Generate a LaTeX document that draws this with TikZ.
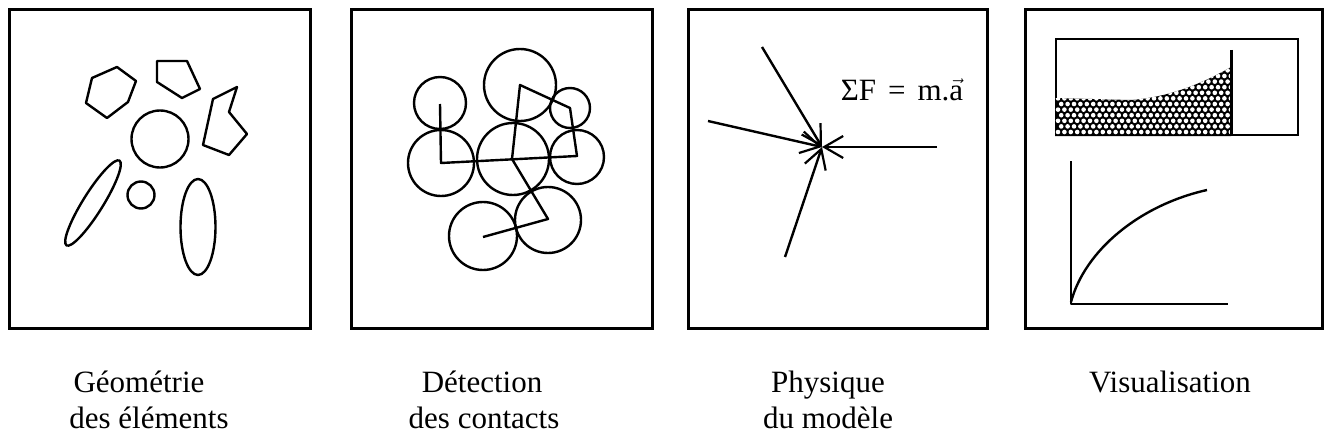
\documentclass[tikz,border=0pt]{standalone}
\usepackage{fontspec}
\setmainfont{Liberation Serif}
\usetikzlibrary{arrows.meta}
\begin{document}
\begin{tikzpicture}[x=1pt,y=-1pt,
  frame/.style={line width=3pt},
  obj/.style={line width=2.4pt, line join=round},
  force/.style={line width=2.4pt, -{Straight Barb[length=19pt,width=22pt,line width=2.2pt]}},
  lbl/.style={font=\fontsize{31}{36}\selectfont, anchor=base, inner sep=0pt}]
\useasboundingbox (0,0) rectangle (1326,444);
\fill[white] (0,0) rectangle (1326,444);
% frames
\draw[frame] (9,10) rectangle (310,328);
\draw[frame] (351,10) rectangle (652,328);
\draw[frame] (688,10) rectangle (987,328);
\draw[frame] (1025,10) rectangle (1322,328);
% panel 1
\draw[obj] (92,78) -- (117,67) -- (136,81) -- (128,102) -- (107,118) -- (86,103) -- cycle;
\draw[obj] (157,61) -- (187,61) -- (200,89) -- (182,98) -- (157,82) -- cycle;
\draw[obj] (213,99) -- (237,87) -- (229,112) -- (247,134) -- (229,155) -- (203,145) -- cycle;
\draw[obj] (160,139) circle (28.5);
\draw[obj] (141,195) circle (13.5);
\draw[obj] (93,203) ellipse [x radius=50, y radius=10, rotate=58];
\draw[obj] (198,227) ellipse [x radius=17.5, y radius=48];
% panel 2
\draw[obj] (440,103) circle (26);
\draw[obj] (520,85) circle (36);
\draw[obj] (570,108) circle (20);
\draw[obj] (441,163) circle (33);
\draw[obj] (513,159) circle (36);
\draw[obj] (577,157) circle (27);
\draw[obj] (548,220) circle (33);
\draw[obj] (483,236) circle (34);
\draw[obj] (440,104) -- (441,163) -- (577,156) -- (570,108) -- (520,85) -- (512,159) -- (548,219) -- (483,237);
% panel 3
\coordinate (fc) at (822,147);
\coordinate (f1) at (762,47);
\coordinate (f2) at (708,121);
\coordinate (f3) at (937,147);
\coordinate (f4) at (785,257);
\draw[force] (f1) -- (fc);
\draw[force] (f2) -- (fc);
\draw[force] (f3) -- (fc);
\draw[force] (f4) -- (fc);
\node[font=\fontsize{31}{34}\selectfont, anchor=base, inner sep=0pt] (eq) at (902,100) {ΣF\hspace{12pt}=\hspace{12pt}m.\ensuremath{\vec{\mbox{a}}}};
% panel 4
\draw[line width=1.5pt] (1056,39) rectangle (1298,135);
\begin{scope}
\clip (1055,136) -- (1055,98) -- (1130,100) .. controls (1165,98) and (1200,85) .. (1231,67) -- (1231,136) -- cycle;
\fill[black] (1050,60) rectangle (1235,140);
\foreach \r in {0,...,12} {
  \foreach \c in {0,...,28} {
    \fill[white] ({1058+6.4*\c+3.2*mod(\r,2)},{132-5.6*\r}) circle (2.3);
  }
}
\end{scope}
\draw[line width=3pt] (1231,50) -- (1231,136);
\draw[obj] (1071,161) -- (1071,304) -- (1228,304);
\draw[obj] (1071,302) .. controls (1085,250) and (1140,205) .. (1207,190);
% labels
\node[lbl] (l1a) at (139,392) {Géométrie};
\node[lbl] (l1b) at (149,428) {des éléments};
\node[lbl] (l2a) at (482,392) {Détection};
\node[lbl] (l2b) at (484,428) {des contacts};
\node[lbl] (l3a) at (828,392) {Physique};
\node[lbl] (l3b) at (828,428) {du modèle};
\node[lbl] (l4a) at (1170,392) {Visualisation};
\end{tikzpicture}
\end{document}
